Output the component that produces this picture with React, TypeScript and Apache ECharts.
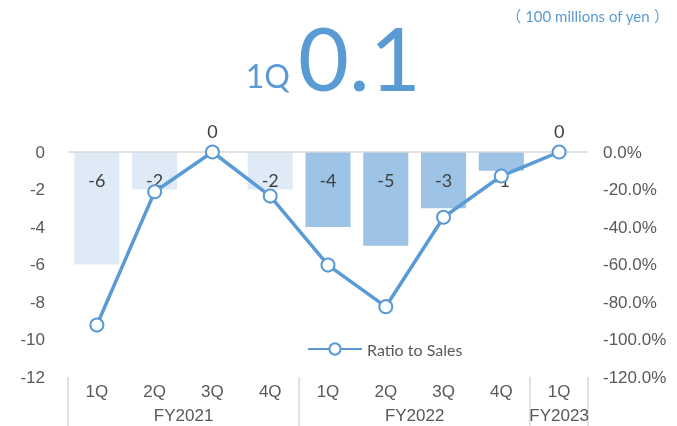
import React, { useEffect, useRef } from "react";
import * as echarts from "echarts";

// Quarterly operating result (100 millions of yen) and its ratio to sales
const quarters = ["1Q", "2Q", "3Q", "4Q", "1Q", "2Q", "3Q", "4Q", "1Q"];
const fiscalYears = [
  { name: "FY2021", count: 4 },
  { name: "FY2022", count: 4 },
  { name: "FY2023", count: 1 },
];
const profitValues = [-6, -2, 0, -2, -4, -5, -3, -1, 0];
const ratioToSales = [-92.3, -21.2, 0, -23.5, -60.3, -82.5, -34.8, -12.8, 0];
const leftTicks = { min: -12, max: 0, interval: 2 };
const rightTicks = { min: -120, max: 0, interval: 20 };
const headlineQuarter = "1Q";
const headlineValue = "0.1";
const unitLabel = "100 millions of yen";

const BLUE = "#5b9bd5";
const AXIS_TEXT = "#595959";
const GRID_LINE = "#d9d9d9";
const yearColors = ["#deebf7", "#9dc3e6", "#9dc3e6"];

export default function App() {
  const ref = useRef<HTMLDivElement>(null);

  useEffect(() => {
    if (!ref.current) return;
    const chart = echarts.init(ref.current, undefined, { renderer: "svg" });

    // fiscal-year boundaries and label centres on a 0..N scale
    const boundaries: number[] = [0];
    const centres: number[] = [];
    let acc = 0;
    fiscalYears.forEach((fy) => {
      centres.push(acc + fy.count / 2);
      acc += fy.count;
      boundaries.push(acc);
    });
    const yearIndexOf = (i: number) => {
      let s = 0;
      for (let k = 0; k < fiscalYears.length; k++) {
        s += fiscalYears[k].count;
        if (i < s) return k;
      }
      return fiscalYears.length - 1;
    };

    const barData = profitValues.map((v, i) => {
      const item: any = {
        value: v,
        itemStyle: { color: yearColors[yearIndexOf(i)] },
      };
      if (v === 0) {
        item.label = { position: "top", distance: 12 };
      }
      return item;
    });

    const labelFont = "'Liberation Sans', Arial, sans-serif";

    chart.setOption({
      animation: false,
      grid: { left: 68, right: 89, top: 152, bottom: 49, containLabel: false },
      legend: {
        data: ["Ratio to Sales"],
        left: 302,
        top: 336,
        itemWidth: 54,
        itemHeight: 14,
        itemGap: 6,
        textStyle: { color: AXIS_TEXT, fontSize: 16, fontFamily: "Lato, sans-serif" },
      },
      graphic: [
        {
          type: "text",
          right: 8,
          top: 8,
          style: {
            text: `{p|（}{t| ${unitLabel} }{p|）}`,
            rich: {
              p: { fill: BLUE, fontSize: 15, fontFamily: "'Noto Sans CJK JP', sans-serif" },
              t: { fill: BLUE, fontSize: 15, fontFamily: "Lato, sans-serif" },
            },
          },
        },
        {
          type: "text",
          x: 290,
          y: 75,
          style: {
            text: headlineQuarter,
            fill: BLUE,
            fontSize: 32,
            fontFamily: "Lato, sans-serif",
            align: "right",
            verticalAlign: "middle",
          },
        },
        {
          type: "text",
          x: 298,
          y: 57,
          style: {
            text: headlineValue,
            fill: BLUE,
            fontSize: 88,
            fontFamily: "Lato, sans-serif",
            align: "left",
            verticalAlign: "middle",
          },
        },
      ],
      xAxis: [
        {
          type: "category",
          data: quarters,
          position: "bottom",
          axisLine: { show: false, onZero: false },
          axisTick: { show: false },
          axisLabel: { color: AXIS_TEXT, fontSize: 17, fontFamily: labelFont, margin: 6 },
        },
        {
          type: "value",
          min: 0,
          max: acc,
          position: "bottom",
          axisLine: { show: false, onZero: false },
          splitLine: { show: false },
          axisTick: {
            show: true,
            customValues: boundaries,
            length: 50,
            lineStyle: { color: GRID_LINE, width: 1.5 },
          },
          axisLabel: {
            customValues: centres,
            margin: 30,
            color: AXIS_TEXT,
            fontSize: 17,
            fontFamily: labelFont,
            formatter: (v: number) => {
              const k = centres.findIndex((c) => Math.abs(c - v) < 1e-6);
              return k >= 0 ? fiscalYears[k].name : "";
            },
          },
        },
      ],
      yAxis: [
        {
          type: "value",
          min: leftTicks.min,
          max: leftTicks.max,
          interval: leftTicks.interval,
          axisLine: { show: false },
          axisTick: { show: false },
          splitLine: { show: false },
          axisLabel: { color: AXIS_TEXT, fontSize: 17, fontFamily: labelFont, margin: 23 },
        },
        {
          type: "value",
          min: rightTicks.min,
          max: rightTicks.max,
          interval: rightTicks.interval,
          position: "right",
          axisLine: { show: false },
          axisTick: { show: false },
          splitLine: { show: false },
          axisLabel: {
            color: AXIS_TEXT,
            fontSize: 17,
            fontFamily: labelFont,
            margin: 15,
            formatter: (v: number) => `${v.toFixed(1)}%`,
          },
        },
      ],
      series: [
        {
          name: "Operating Income",
          type: "bar",
          xAxisIndex: 0,
          yAxisIndex: 0,
          barWidth: "78%",
          data: barData,
          label: {
            show: true,
            position: "insideTop",
            distance: 19,
            color: "#404040",
            fontSize: 18,
            fontFamily: "Lato, sans-serif",
          },
          markLine: {
            silent: true,
            symbol: "none",
            label: { show: false },
            lineStyle: { color: GRID_LINE, type: "solid", width: 1.5 },
            data: [{ yAxis: 0 }],
          },
        },
        {
          name: "Ratio to Sales",
          type: "line",
          xAxisIndex: 0,
          yAxisIndex: 1,
          data: ratioToSales,
          symbol: "circle",
          symbolSize: 13,
          z: 5,
          lineStyle: { color: BLUE, width: 3.5 },
          itemStyle: { color: "#ffffff", borderColor: BLUE, borderWidth: 2 },
        },
      ],
    });

    return () => chart.dispose();
  }, []);

  return (
    <div
      ref={ref}
      style={{ position: "fixed", left: 0, top: 0, width: 677, height: 426 }}
    />
  );
}
